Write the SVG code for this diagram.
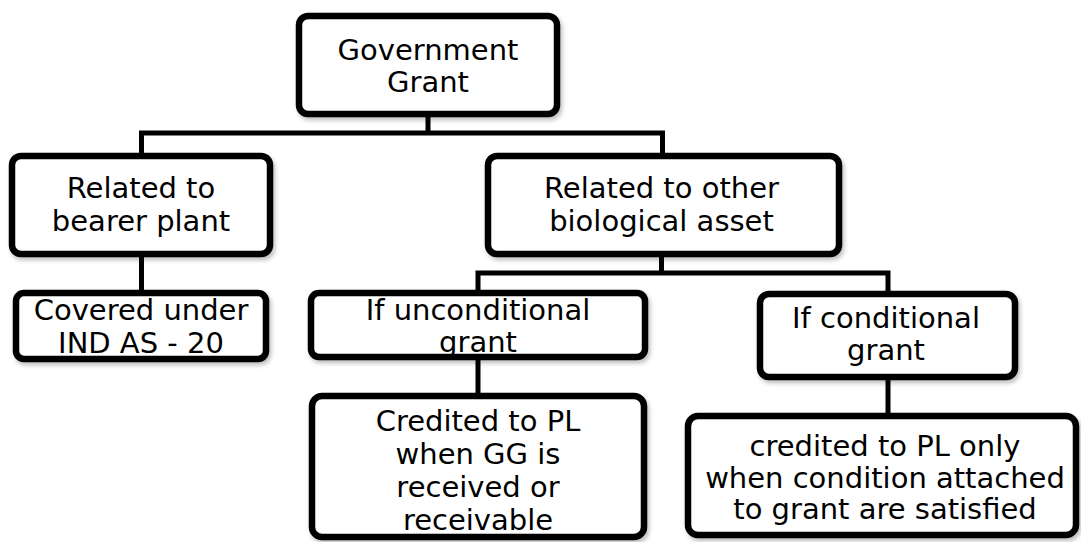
<svg xmlns="http://www.w3.org/2000/svg" width="1081" height="542" viewBox="0 0 1081 542">
<style>
.box{fill:#fff;stroke:#000;stroke-width:6.5;filter:url(#sh)}
.lbl{font-family:"DejaVu Sans",Verdana,sans-serif;font-size:29px;fill:#000;text-anchor:middle}
.con{fill:none;stroke:#000;stroke-width:5}
</style>
<defs>
<filter id="sh" x="-10%" y="-10%" width="120%" height="130%">
<feDropShadow dx="2" dy="3" stdDeviation="2" flood-color="#000" flood-opacity="0.25"/>
</filter>
</defs>
<rect width="1081" height="542" fill="#fff"/>
<g id="connectors">
<path class="con" d="M428,117 V133 M141.5,153 V133 H662.5 V153"/>
<path class="con" d="M141.5,257 V291"/>
<path class="con" d="M661.5,257 V273 M478,291 V273 H888 V292"/>
<path class="con" d="M478,360 V394"/>
<path class="con" d="M888,380 V414"/>
</g>
<g id="n-gg">
<rect class="box" x="299" y="16" width="258" height="98" rx="9"/>
<text class="lbl" x="428" y="60">Government</text>
<text class="lbl" x="428" y="92">Grant</text>
</g>
<g id="n-bearer">
<rect class="box" x="12" y="156" width="258" height="98" rx="9"/>
<text class="lbl" x="141" y="198">Related to</text>
<text class="lbl" x="141" y="231">bearer plant</text>
</g>
<g id="n-other">
<rect class="box" x="488" y="156" width="351" height="98" rx="9"/>
<text class="lbl" x="661.5" y="198">Related to other</text>
<text class="lbl" x="661.5" y="231">biological asset</text>
</g>
<g id="n-covered">
<rect class="box" x="16" y="293" width="250" height="66" rx="8"/>
<text class="lbl" x="141" y="320">Covered under</text>
<text class="lbl" x="141" y="353">IND AS - 20</text>
</g>
<g id="n-uncond">
<rect class="box" x="311" y="293" width="334" height="64" rx="8"/>
<text class="lbl" x="478" y="320">If unconditional</text>
<text class="lbl" x="478" y="352">grant</text>
</g>
<g id="n-cond">
<rect class="box" x="760" y="294" width="255" height="83" rx="9"/>
<text class="lbl" x="886" y="328">If conditional</text>
<text class="lbl" x="886" y="360">grant</text>
</g>
<g id="n-credited-uncond">
<rect class="box" x="312" y="396" width="332" height="141" rx="10"/>
<text class="lbl" x="478" y="431">Credited to PL</text>
<text class="lbl" x="478" y="464">when GG is</text>
<text class="lbl" x="478" y="497">received or</text>
<text class="lbl" x="478" y="530">receivable</text>
</g>
<g id="n-credited-cond">
<rect class="box" x="688" y="416" width="388" height="119" rx="10"/>
<text class="lbl" x="885" y="456">credited to PL only</text>
<text class="lbl" x="885" y="488">when condition attached</text>
<text class="lbl" x="885" y="519">to grant are satisfied</text>
</g>
</svg>
